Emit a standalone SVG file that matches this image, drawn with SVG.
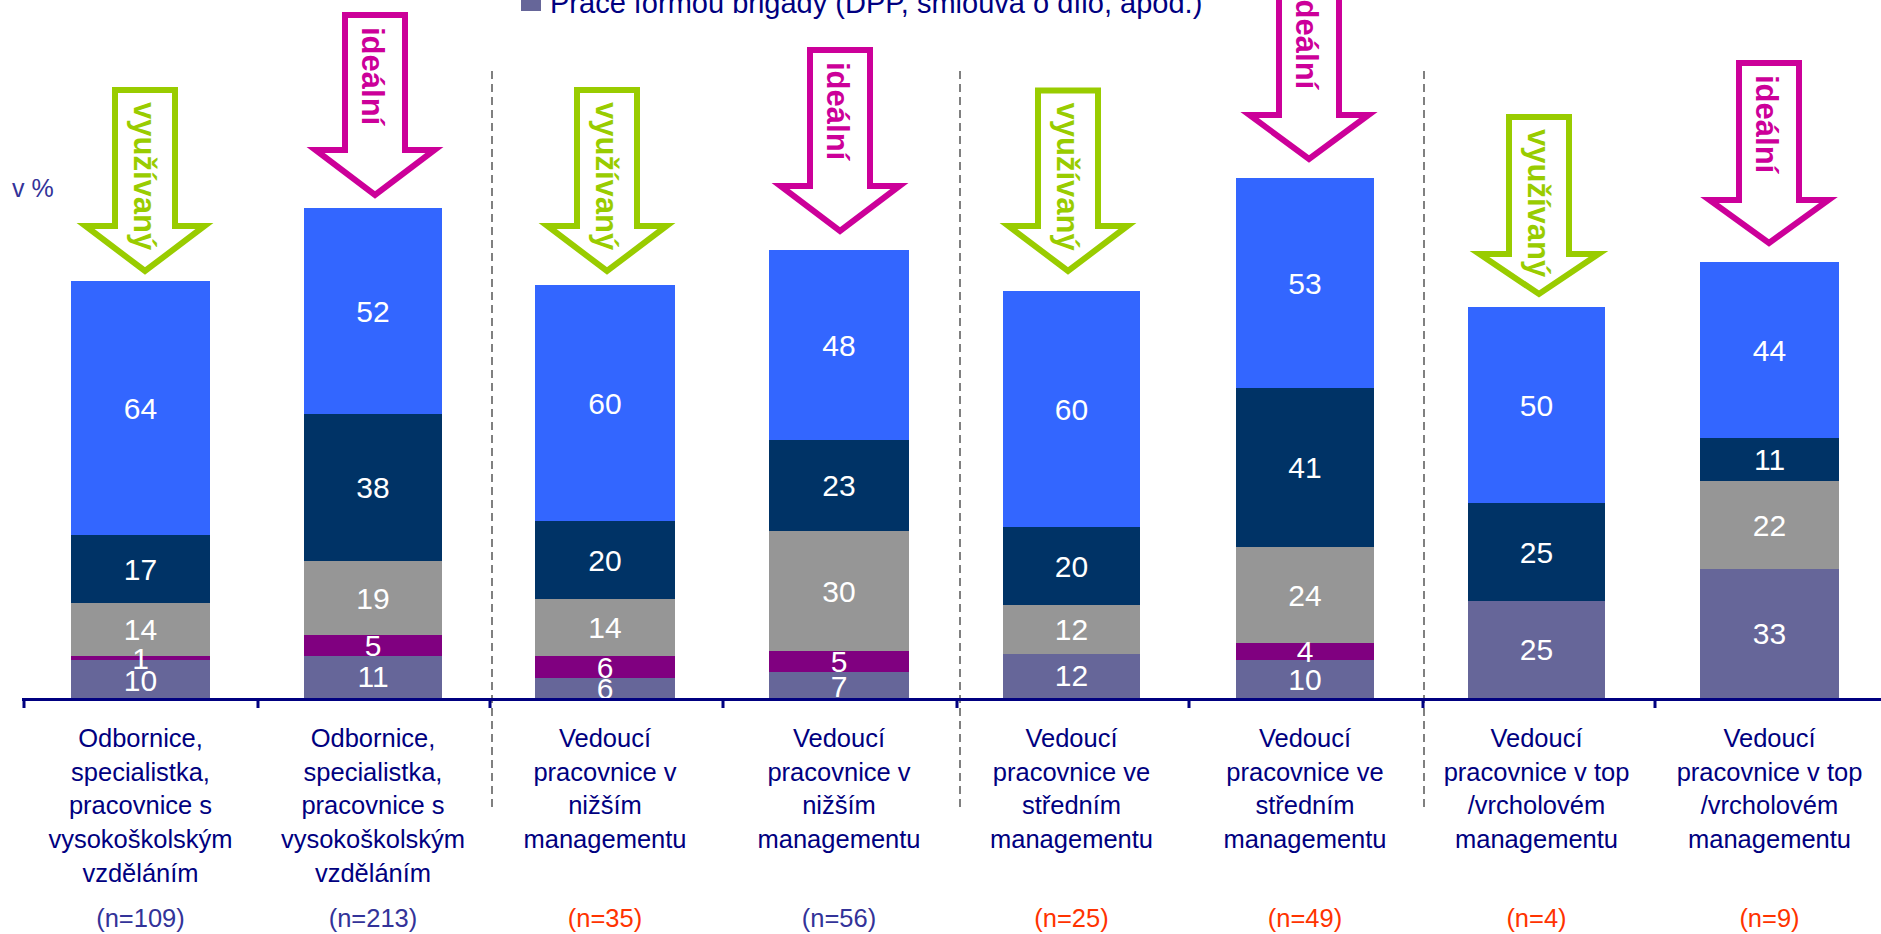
<svg xmlns="http://www.w3.org/2000/svg" width="1881" height="934" viewBox="0 0 1881 934">
<style>
.blue{fill:#3366ff}.navy{fill:#003366}.gray{fill:#969696}.purple{fill:#800080}.lav{fill:#666699}
text{font-family:"Liberation Sans",Arial,sans-serif}
.val{font-size:30px;fill:#ffffff;text-anchor:middle}
.cat{font-size:25.5px;fill:#000080;text-anchor:middle}
.nb{font-size:25.5px;fill:#333399;text-anchor:middle}
.no{font-size:25.5px;fill:#ff3300;text-anchor:middle}
.arrG{fill:#ffffff;stroke:#99cc00;stroke-width:6;stroke-linejoin:miter}
.arrM{fill:#ffffff;stroke:#cc0099;stroke-width:6;stroke-linejoin:miter}
.tG{font-size:31px;font-weight:bold;fill:#99cc00}
.tM{font-size:31px;font-weight:bold;fill:#cc0099}
.div{stroke:#808080;stroke-width:2;stroke-dasharray:8,5;fill:none}
.axis{stroke:#000080;stroke-width:3;fill:none}
</style>
<rect width="1881" height="934" fill="#ffffff"/>

<g id="legend">
<rect x="521" y="-9" width="20" height="20" class="lav"/>
<text x="550" y="13" style="font-size:29px;fill:#000080">Práce formou brigády (DPP, smlouva o dílo, apod.)</text>
</g>
<text id="unit" x="12" y="197" style="font-size:25px;fill:#333399">v %</text>

<g id="dividers">
<line x1="492" y1="71" x2="492" y2="807" class="div"/>
<line x1="960" y1="71" x2="960" y2="807" class="div"/>
<line x1="1424" y1="71" x2="1424" y2="807" class="div"/>
</g>

<g id="bar1">
<rect x="71" y="281" width="139" height="254" class="blue"/>
<rect x="71" y="535" width="139" height="68" class="navy"/>
<rect x="71" y="603" width="139" height="53" class="gray"/>
<rect x="71" y="656" width="139" height="4" class="purple"/>
<rect x="71" y="660" width="139" height="38" class="lav"/>
<text class="val" x="140.5" y="419">64</text>
<text class="val" x="140.5" y="580">17</text>
<text class="val" x="140.5" y="640">14</text>
<text class="val" x="140.5" y="669">1</text>
<text class="val" x="140.5" y="691">10</text>
</g>
<g id="bar2">
<rect x="304" y="208" width="138" height="206" class="blue"/>
<rect x="304" y="414" width="138" height="147" class="navy"/>
<rect x="304" y="561" width="138" height="74" class="gray"/>
<rect x="304" y="635" width="138" height="21" class="purple"/>
<rect x="304" y="656" width="138" height="42" class="lav"/>
<text class="val" x="373" y="322">52</text>
<text class="val" x="373" y="498">38</text>
<text class="val" x="373" y="609">19</text>
<text class="val" x="373" y="656">5</text>
<text class="val" x="373" y="687">11</text>
</g>
<g id="bar3">
<rect x="535" y="285" width="140" height="236" class="blue"/>
<rect x="535" y="521" width="140" height="78" class="navy"/>
<rect x="535" y="599" width="140" height="57" class="gray"/>
<rect x="535" y="656" width="140" height="22" class="purple"/>
<rect x="535" y="678" width="140" height="20" class="lav"/>
<text class="val" x="605" y="414">60</text>
<text class="val" x="605" y="571">20</text>
<text class="val" x="605" y="638">14</text>
<text class="val" x="605" y="678">6</text>
<text class="val" x="605" y="699">6</text>
</g>
<g id="bar4">
<rect x="769" y="250" width="140" height="190" class="blue"/>
<rect x="769" y="440" width="140" height="91" class="navy"/>
<rect x="769" y="531" width="140" height="120" class="gray"/>
<rect x="769" y="651" width="140" height="21" class="purple"/>
<rect x="769" y="672" width="140" height="26" class="lav"/>
<text class="val" x="839" y="356">48</text>
<text class="val" x="839" y="496">23</text>
<text class="val" x="839" y="602">30</text>
<text class="val" x="839" y="672">5</text>
<text class="val" x="839" y="697">7</text>
</g>
<g id="bar5">
<rect x="1003" y="291" width="137" height="236" class="blue"/>
<rect x="1003" y="527" width="137" height="78" class="navy"/>
<rect x="1003" y="605" width="137" height="49" class="gray"/>
<rect x="1003" y="654" width="137" height="44" class="lav"/>
<text class="val" x="1071.5" y="420">60</text>
<text class="val" x="1071.5" y="577">20</text>
<text class="val" x="1071.5" y="640">12</text>
<text class="val" x="1071.5" y="686">12</text>
</g>
<g id="bar6">
<rect x="1236" y="178" width="138" height="210" class="blue"/>
<rect x="1236" y="388" width="138" height="159" class="navy"/>
<rect x="1236" y="547" width="138" height="96" class="gray"/>
<rect x="1236" y="643" width="138" height="17" class="purple"/>
<rect x="1236" y="660" width="138" height="38" class="lav"/>
<text class="val" x="1305" y="294">53</text>
<text class="val" x="1305" y="478">41</text>
<text class="val" x="1305" y="606">24</text>
<text class="val" x="1305" y="662">4</text>
<text class="val" x="1305" y="690">10</text>
</g>
<g id="bar7">
<rect x="1468" y="307" width="137" height="196" class="blue"/>
<rect x="1468" y="503" width="137" height="98" class="navy"/>
<rect x="1468" y="601" width="137" height="97" class="lav"/>
<text class="val" x="1536.5" y="416">50</text>
<text class="val" x="1536.5" y="563">25</text>
<text class="val" x="1536.5" y="660">25</text>
</g>
<g id="bar8">
<rect x="1700" y="262" width="139" height="176" class="blue"/>
<rect x="1700" y="438" width="139" height="43" class="navy"/>
<rect x="1700" y="481" width="139" height="88" class="gray"/>
<rect x="1700" y="569" width="139" height="129" class="lav"/>
<text class="val" x="1769.5" y="361">44</text>
<text class="val" x="1769.5" y="470">11</text>
<text class="val" x="1769.5" y="536">22</text>
<text class="val" x="1769.5" y="644">33</text>
</g>

<g id="axis">
<line x1="22" y1="699.5" x2="1881" y2="699.5" class="axis"/>
<path class="axis" d="M24 699v9M258 699v9M490 699v9M723 699v9M957 699v9M1189 699v9M1423 699v9M1655 699v9"/>
</g>

<g id="arrow1">
<polygon class="arrG" points="115,90 175,90 175,226 204.5,226 145,271 85.5,226 115,226"/>
<text class="tG" transform="translate(145,102) rotate(90)" x="0" y="11.5">využívaný</text>
</g>
<g id="arrow2">
<polygon class="arrM" points="345,15 405,15 405,150 434.5,150 375,195 315.5,150 345,150"/>
<text class="tM" transform="translate(375,27) rotate(90)" x="0" y="13">ideální</text>
</g>
<g id="arrow3">
<polygon class="arrG" points="577,90 637,90 637,226 666.5,226 607,271 547.5,226 577,226"/>
<text class="tG" transform="translate(607,102) rotate(90)" x="0" y="11.5">využívaný</text>
</g>
<g id="arrow4">
<polygon class="arrM" points="810,50 870,50 870,186 899.5,186 840,231 780.5,186 810,186"/>
<text class="tM" transform="translate(840,62) rotate(90)" x="0" y="13">ideální</text>
</g>
<g id="arrow5">
<polygon class="arrG" points="1038,90.5 1098,90.5 1098,226 1127.5,226 1068,271 1008.5,226 1038,226"/>
<text class="tG" transform="translate(1068,102.5) rotate(90)" x="0" y="11.5">využívaný</text>
</g>
<g id="arrow6">
<polygon class="arrM" points="1279,-21 1339,-21 1339,115 1368.5,115 1309,159 1249.5,115 1279,115"/>
<text class="tM" transform="translate(1309,-9) rotate(90)" x="0" y="13">ideální</text>
</g>
<g id="arrow7">
<polygon class="arrG" points="1509,117 1569,117 1569,254 1598.5,254 1539,294 1479.5,254 1509,254"/>
<text class="tG" transform="translate(1539,129) rotate(90)" x="0" y="11.5">využívaný</text>
</g>
<g id="arrow8">
<polygon class="arrM" points="1739,63 1799,63 1799,200 1828.5,200 1769,243 1709.5,200 1739,200"/>
<text class="tM" transform="translate(1769,75) rotate(90)" x="0" y="13">ideální</text>
</g>

<g id="labels">
<text class="cat" x="140.5" y="747">Odbornice,</text>
<text class="cat" x="140.5" y="781">specialistka,</text>
<text class="cat" x="140.5" y="814">pracovnice s</text>
<text class="cat" x="140.5" y="848">vysokoškolským</text>
<text class="cat" x="140.5" y="882">vzděláním</text>
<text class="cat" x="373" y="747">Odbornice,</text>
<text class="cat" x="373" y="781">specialistka,</text>
<text class="cat" x="373" y="814">pracovnice s</text>
<text class="cat" x="373" y="848">vysokoškolským</text>
<text class="cat" x="373" y="882">vzděláním</text>
<text class="cat" x="605" y="747">Vedoucí</text>
<text class="cat" x="605" y="781">pracovnice v</text>
<text class="cat" x="605" y="814">nižším</text>
<text class="cat" x="605" y="848">managementu</text>
<text class="cat" x="839" y="747">Vedoucí</text>
<text class="cat" x="839" y="781">pracovnice v</text>
<text class="cat" x="839" y="814">nižším</text>
<text class="cat" x="839" y="848">managementu</text>
<text class="cat" x="1071.5" y="747">Vedoucí</text>
<text class="cat" x="1071.5" y="781">pracovnice ve</text>
<text class="cat" x="1071.5" y="814">středním</text>
<text class="cat" x="1071.5" y="848">managementu</text>
<text class="cat" x="1305" y="747">Vedoucí</text>
<text class="cat" x="1305" y="781">pracovnice ve</text>
<text class="cat" x="1305" y="814">středním</text>
<text class="cat" x="1305" y="848">managementu</text>
<text class="cat" x="1536.5" y="747">Vedoucí</text>
<text class="cat" x="1536.5" y="781">pracovnice v top</text>
<text class="cat" x="1536.5" y="814">/vrcholovém</text>
<text class="cat" x="1536.5" y="848">managementu</text>
<text class="cat" x="1769.5" y="747">Vedoucí</text>
<text class="cat" x="1769.5" y="781">pracovnice v top</text>
<text class="cat" x="1769.5" y="814">/vrcholovém</text>
<text class="cat" x="1769.5" y="848">managementu</text>
</g>
<g id="counts">
<text class="nb" x="140.5" y="927">(n=109)</text>
<text class="nb" x="373" y="927">(n=213)</text>
<text class="no" x="605" y="927">(n=35)</text>
<text class="nb" x="839" y="927">(n=56)</text>
<text class="no" x="1071.5" y="927">(n=25)</text>
<text class="no" x="1305" y="927">(n=49)</text>
<text class="no" x="1536.5" y="927">(n=4)</text>
<text class="no" x="1769.5" y="927">(n=9)</text>
</g>
</svg>
